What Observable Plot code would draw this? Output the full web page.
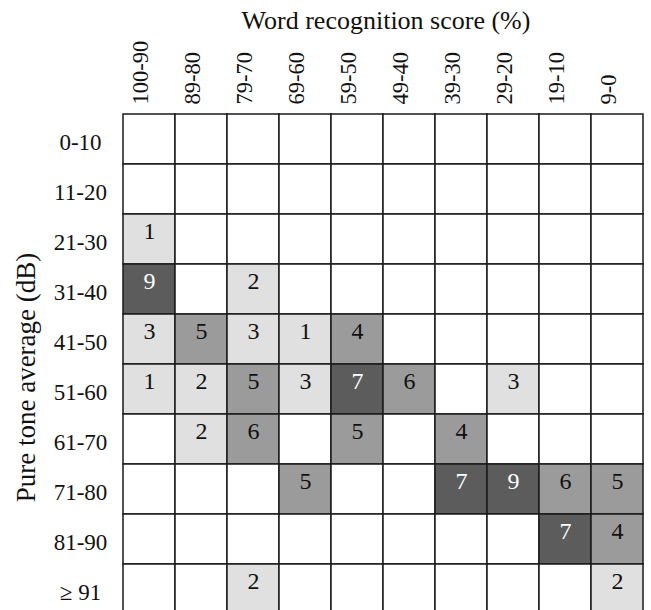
<!DOCTYPE html>
<html>
<head>
<meta charset="utf-8">
<script src="https://cdn.jsdelivr.net/npm/d3@7"></script>
<script src="https://cdn.jsdelivr.net/npm/@observablehq/plot@0.6"></script>
<style>
  html, body { margin: 0; padding: 0; background: #fff; overflow: hidden; }
  #chart svg { display: block; }
</style>
</head>
<body>
<div id="chart"></div>
<script>
// Word recognition score bands (columns)
const cols = ["100-90", "89-80", "79-70", "69-60", "59-50", "49-40", "39-30", "29-20", "19-10", "9-0"];
// Pure tone average bands (rows)
const rows = ["0-10", "11-20", "21-30", "31-40", "41-50", "51-60", "61-70", "71-80", "81-90", "≥ 91"];
// Counts per row, one entry per column (0 = empty cell)
const row_0_10   = [0, 0, 0, 0, 0, 0, 0, 0, 0, 0];
const row_11_20  = [0, 0, 0, 0, 0, 0, 0, 0, 0, 0];
const row_21_30  = [1, 0, 0, 0, 0, 0, 0, 0, 0, 0];
const row_31_40  = [9, 0, 2, 0, 0, 0, 0, 0, 0, 0];
const row_41_50  = [3, 5, 3, 1, 4, 0, 0, 0, 0, 0];
const row_51_60  = [1, 2, 5, 3, 7, 6, 0, 3, 0, 0];
const row_61_70  = [0, 2, 6, 0, 5, 0, 4, 0, 0, 0];
const row_71_80  = [0, 0, 0, 5, 0, 0, 7, 9, 6, 5];
const row_81_90  = [0, 0, 0, 0, 0, 0, 0, 0, 7, 4];
const row_91_up  = [0, 0, 2, 0, 0, 0, 0, 0, 0, 2];
const counts = [row_0_10, row_11_20, row_21_30, row_31_40, row_41_50, row_51_60, row_61_70, row_71_80, row_81_90, row_91_up];

const cells = [];
rows.forEach((r, i) => cols.forEach((c, j) => cells.push({row: r, col: c, n: counts[i][j]})));
const filled = cells.filter(d => d.n > 0);

const shade = n => n === 0 ? "#ffffff" : n <= 3 ? "#e0e0e0" : n <= 6 ? "#9b9b9b" : "#5c5c5c";

const chart = Plot.plot({
  width: 651,
  height: 614,
  marginLeft: 118,
  marginRight: 4,
  marginTop: 114,
  marginBottom: 0,
  style: {fontFamily: "'Liberation Serif', 'Times New Roman', serif", color: "#111", background: "#fff"},
  x: {domain: cols, padding: 0, axis: null},
  y: {domain: rows, padding: 0, axis: null},
  marks: [
    Plot.cell(cells, {x: "col", y: "row", fill: d => shade(d.n), stroke: "#1a1a1a", strokeWidth: 1.5}),
    Plot.text(filled, {x: "col", y: "row", text: d => String(d.n), fontSize: 24, dy: -8,
      fill: d => d.n >= 7 ? "#ffffff" : "#111111"}),
    Plot.axisX({anchor: "top", tickSize: 0, tickPadding: 10, tickRotate: -90, fontSize: 22.5, dx: -9, label: null}),
    Plot.axisY({anchor: "left", tickSize: 0, tickPadding: 38, textAnchor: "middle", fontSize: 23, dy: 3, label: null}),
    Plot.text(["Word recognition score (%)"], {frameAnchor: "top", text: d => d, fontSize: 26, lineAnchor: "top", textAnchor: "middle", dx: 3, dy: -104}),
    Plot.text(["Pure tone average (dB)"], {frameAnchor: "left", text: d => d, rotate: -90, textAnchor: "middle", lineAnchor: "middle", fontSize: 27, dx: -92, dy: 13})
  ]
});
document.getElementById("chart").appendChild(chart);
</script>
</body>
</html>
